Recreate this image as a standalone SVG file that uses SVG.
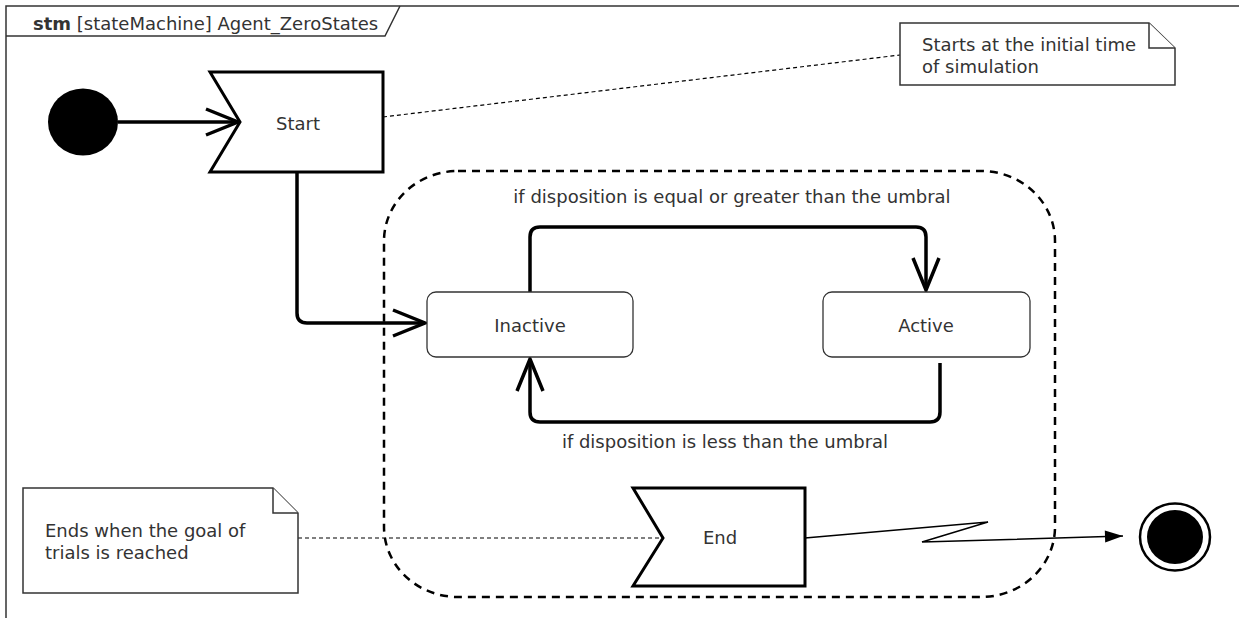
<svg xmlns="http://www.w3.org/2000/svg" width="1239" height="618" viewBox="0 0 1239 618">
<style>
text{font-family:"DejaVu Sans","Liberation Sans",sans-serif;font-size:18px;fill:#333}
.c{text-anchor:middle}
.frame{fill:none;stroke:#333;stroke-width:1.5}
.thick{fill:none;stroke:#000;stroke-width:3.5;stroke-linejoin:round}
.state{fill:#fff;stroke:#333;stroke-width:1.3}
.note{fill:#fff;stroke:#333;stroke-width:1.5}
.anchor{fill:none;stroke:#000;stroke-width:1.2;stroke-dasharray:4 3}
.region{fill:none;stroke:#000;stroke-width:2.5;stroke-dasharray:8 6}
.thin{fill:none;stroke:#000;stroke-width:1.5}
</style>
<defs>
<marker id="open" markerUnits="userSpaceOnUse" markerWidth="40" markerHeight="34" viewBox="-36 -17 40 34" refX="0" refY="0" orient="auto">
<path d="M-32,-13 L0,0 L-32,13" fill="none" stroke="#000" stroke-width="3.5" stroke-linejoin="miter"/>
</marker>
<marker id="filled" markerUnits="userSpaceOnUse" markerWidth="22" markerHeight="14" viewBox="-20 -7 22 14" refX="0" refY="0" orient="auto">
<path d="M-18,-6 L0,0 L-18,6 Z" fill="#000"/>
</marker>
</defs>
<rect width="1239" height="618" fill="#fff"/>
<g id="frame">
<rect class="frame" x="6" y="6" width="1245" height="625"/>
<path class="frame" d="M6,36 H385 L400,6"/>
<text x="33" y="30"><tspan font-weight="bold">stm</tspan> [stateMachine] Agent_ZeroStates</text>
</g>
<g id="region">
<rect class="region" x="384" y="171" width="671" height="426" rx="74" ry="70"/>
</g>
<g id="connectors">
<path class="anchor" d="M383,117 L900,55"/>
<path class="anchor" d="M298,538 L663,538"/>
<path class="thick" d="M118,122 H238" marker-end="url(#open)"/>
<path class="thick" d="M297,172 V313 Q297,323 307,323 H425" marker-end="url(#open)"/>
<path class="thick" d="M530,292 V237 Q530,227 540,227 H916 Q926,227 926,237 V290" marker-end="url(#open)"/>
<path class="thick" d="M940,363 V412 Q940,422 930,422 H540 Q530,422 530,412 V359" marker-end="url(#open)"/>
<path class="thin" d="M805,538 L988,522 L922,542 L1123,536" marker-end="url(#filled)"/>
</g>
<g id="initial">
<ellipse cx="83" cy="122" rx="35" ry="33.5" fill="#000"/>
</g>
<g id="start">
<path d="M210,72 H383 V172 H210 L240,122 Z" fill="#fff" stroke="#000" stroke-width="3"/>
<text class="c" x="298" y="130">Start</text>
</g>
<g id="note-start">
<path class="note" d="M900,23 H1149 L1175,48 V85 H900 Z"/>
<path class="note" d="M1149,23 V48 H1175" fill="none"/>
<text x="922" y="51">Starts at the initial time</text>
<text x="922" y="73">of simulation</text>
</g>
<g id="inactive">
<rect class="state" x="427" y="292" width="206" height="65" rx="9"/>
<text class="c" x="530" y="332">Inactive</text>
</g>
<g id="active">
<rect class="state" x="823" y="292" width="207" height="65" rx="9"/>
<text class="c" x="926" y="332">Active</text>
</g>
<g id="labels">
<text class="c" x="732" y="203">if disposition is equal or greater than the umbral</text>
<text class="c" x="725" y="448">if disposition is less than the umbral</text>
</g>
<g id="end">
<path d="M633,488 H805 V586 H633 L663,538 Z" fill="#fff" stroke="#000" stroke-width="3"/>
<text class="c" x="720" y="544">End</text>
</g>
<g id="note-end">
<path class="note" d="M23,488 H273 L298,513 V593 H23 Z"/>
<path class="note" d="M273,488 V513 H298" fill="none"/>
<text x="45" y="537">Ends when the goal of</text>
<text x="45" y="559">trials is reached</text>
</g>
<g id="final">
<ellipse cx="1175" cy="537" rx="35" ry="33.5" fill="#fff" stroke="#000" stroke-width="2.5"/>
<ellipse cx="1175" cy="537" rx="28" ry="27" fill="#000"/>
</g>
</svg>
